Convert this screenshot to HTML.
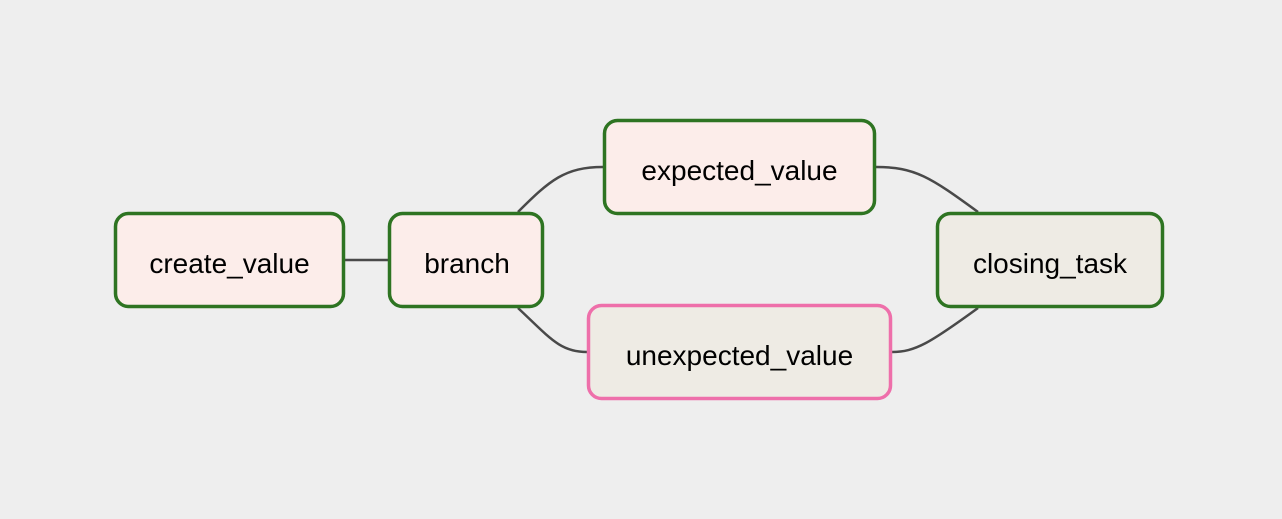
<!DOCTYPE html>
<html><head><style>
body{margin:0;background:#eeeeee;width:1282px;height:514px;overflow:hidden}
</style></head><body>
<svg width="1282" height="514" xmlns="http://www.w3.org/2000/svg" font-family="Liberation Sans, sans-serif" font-size="28">
<g fill="none" stroke="#494949" stroke-width="2.5">
<path d="M345 260 L388 260"/>
<path d="M518 212 C550 180 565 167 603 167"/>
<path d="M518 308 C550 338 560 352 587 352"/>
<path d="M876 167 C915 167 930 177 978 212"/>
<path d="M892 352 C915 352 930 343 978 308"/>
</g>
<g stroke-width="3.5">
<rect x="115.5" y="213.5" width="228" height="93" rx="13" fill="#fcedea" stroke="#2e7422"/>
<rect x="389.5" y="213.5" width="153" height="93" rx="13" fill="#fcedea" stroke="#2e7422"/>
<rect x="604.5" y="120.5" width="270" height="93" rx="13" fill="#fcedea" stroke="#2e7422"/>
<rect x="588.5" y="305.5" width="302" height="93" rx="13" fill="#eeebe4" stroke="#ee6faa"/>
<rect x="937.5" y="213.5" width="225" height="93" rx="13" fill="#eeebe4" stroke="#2e7422"/>
</g>
<g fill="#000" text-anchor="middle">
<text x="229.5" y="273">create_value</text>
<text x="467" y="273">branch</text>
<text x="739.5" y="180">expected_value</text>
<text x="739.5" y="365">unexpected_value</text>
<text x="1050" y="273">closing_task</text>
</g>
</svg>
</body></html>
